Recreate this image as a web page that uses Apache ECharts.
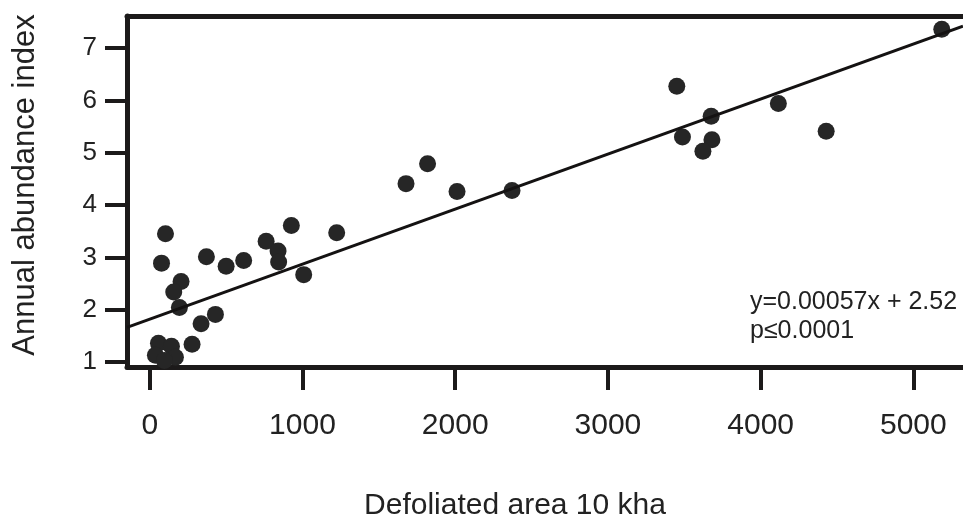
<!DOCTYPE html>
<html>
<head>
<meta charset="utf-8">
<script src="https://cdn.jsdelivr.net/npm/echarts@6/dist/echarts.min.js"></script>
<style>
  html, body { margin: 0; padding: 0; background: #fff; }
  #chart { width: 963px; height: 518px; }
</style>
</head>
<body>
<div id="chart"></div>
<script>
// defoliated area (10 kha) vs annual abundance index
const areaVals = [103, 77, 205, 157, 194, 371, 500, 615, 762, 840, 844, 927, 1008, 430, 336, 277,
  57, 142, 37, 168, 96, 1224, 1678, 1819, 2012, 2372, 3451, 3676, 3488, 3681, 3622, 4116, 4429, 5186];
const abundVals = [3.45, 2.89, 2.54, 2.34, 2.04, 3.01, 2.83, 2.94, 3.31, 3.12, 2.91, 3.61, 2.67, 1.91, 1.73, 1.34,
  1.36, 1.30, 1.13, 1.09, 1.03, 3.47, 4.41, 4.79, 4.26, 4.28, 6.27, 5.70, 5.30, 5.25, 5.03, 5.94, 5.41, 7.36];

// fitted line as drawn, from axis edge to edge
const lineX = [-149, 5325];
const lineY = [1.66, 7.42];

const xTicks = [0, 1000, 2000, 3000, 4000, 5000];
const yTicks = [1, 2, 3, 4, 5, 6, 7];
const xRange = [-149, 5325];
const yRange = [0.904, 7.615];

const ink = "#1c1a1a";

let myChart = echarts.init(document.getElementById("chart"), null, { renderer: "canvas" });

let points = areaVals.map((x, i) => [x, abundVals[i]]);
let fit = lineX.map((x, i) => [x, lineY[i]]);

let option = {
  animation: false,
  backgroundColor: "#fff",
  grid: {
    left: 127,
    top: 16,
    right: 0,
    bottom: 151,
    containLabel: false,
    outerBoundsMode: "none",
  },
  xAxis: [
    {
      type: "value",
      min: xRange[0],
      max: xRange[1],
      splitLine: { show: false },
      axisLine: { show: true, onZero: false, lineStyle: { color: ink, width: 5 } },
      axisTick: {
        show: true,
        inside: false,
        length: 23,
        customValues: xTicks,
        lineStyle: { color: ink, width: 4 },
      },
      axisLabel: {
        customValues: xTicks,
        margin: 44,
        color: "#222",
        fontSize: 30,
        fontFamily: "Liberation Sans",
        formatter: (v) => String(v),
      },
      name: "Defoliated area 10 kha",
      nameLocation: "middle",
      nameGap: 124,
      nameTextStyle: {
        color: "#222",
        fontSize: 30,
        fontFamily: "Liberation Sans",
        padding: [0, 60, 0, 0],
      },
    },
    {
      // top frame line
      type: "value",
      position: "top",
      min: xRange[0],
      max: xRange[1],
      splitLine: { show: false },
      axisLine: { show: true, onZero: false, lineStyle: { color: ink, width: 5 } },
      axisTick: { show: false },
      axisLabel: { show: false },
    },
  ],
  yAxis: {
    type: "value",
    min: yRange[0],
    max: yRange[1],
    splitLine: { show: false },
    axisLine: { show: true, onZero: false, lineStyle: { color: ink, width: 5 } },
    axisTick: {
      show: true,
      inside: false,
      length: 22,
      customValues: yTicks,
      lineStyle: { color: ink, width: 4 },
    },
    axisLabel: {
      customValues: yTicks,
      margin: 30,
      color: "#222",
      fontSize: 26,
      fontFamily: "Liberation Sans",
      formatter: (v) => String(v),
    },
    name: "Annual abundance index",
    nameLocation: "middle",
    nameGap: 86,
    nameTextStyle: {
      color: "#222",
      fontSize: 31,
      fontFamily: "Liberation Sans",
      padding: [0, 0, 0, 13],
    },
  },
  series: [
    {
      name: "obs",
      type: "scatter",
      symbolSize: 17,
      itemStyle: { color: "#262626", opacity: 1 },
      data: points,
      z: 2,
    },
    {
      name: "fit",
      type: "line",
      symbol: "none",
      lineStyle: { color: "#141212", width: 3 },
      data: fit,
      z: 3,
    },
  ],
  graphic: [
    {
      type: "text",
      left: 750,
      top: 288,
      style: {
        text: "y=0.00057x + 2.52\np≤0.0001",
        fill: "#222",
        font: '25px "Liberation Sans"',
        lineHeight: 29,
      },
    },
  ],
};

myChart.setOption(option);
</script>
</body>
</html>
